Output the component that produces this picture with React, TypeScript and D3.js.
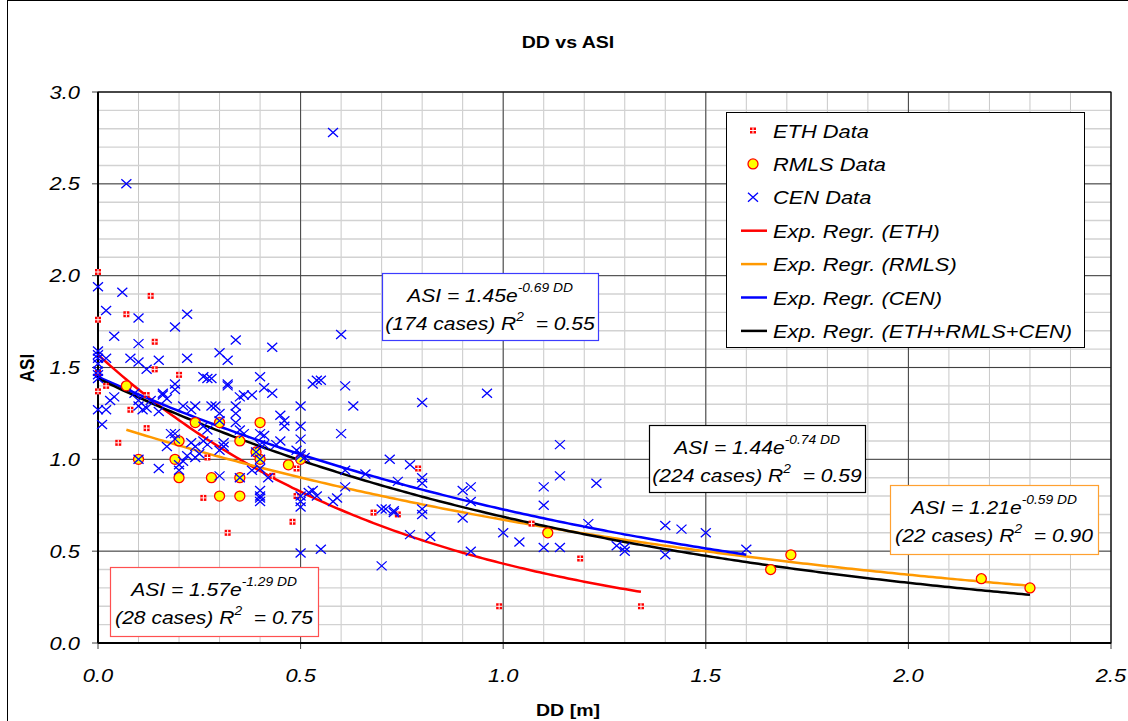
import React from "react";
import * as d3 from "d3";

// DD [m], ASI pairs
const ethData: [number, number][] = [
  [0.0, 2.02], [0.13, 1.89], [0.0, 1.76], [0.07, 1.79], [0.14, 1.64],
  [0.14, 1.49], [0.2, 1.46], [0.0, 1.47], [0.0, 1.37], [0.02, 1.4],
  [0.08, 1.27], [0.12, 1.35], [0.12, 1.17], [0.05, 1.09], [0.27, 1.01],
  [0.26, 0.79], [0.32, 0.6], [0.43, 0.91], [0.48, 0.66], [0.49, 0.8],
  [0.49, 0.95], [0.68, 0.71], [0.74, 0.7], [0.79, 0.95], [0.99, 0.2],
  [1.07, 0.65], [1.19, 0.46], [1.34, 0.2],
];

const rmlsData: [number, number][] = [
  [0.07, 1.4], [0.1, 1.0], [0.19, 1.0], [0.2, 1.1], [0.2, 0.9],
  [0.24, 1.2], [0.3, 1.2], [0.28, 0.9], [0.3, 0.8], [0.35, 1.1],
  [0.35, 0.9], [0.35, 0.8], [0.39, 1.04], [0.4, 1.2], [0.4, 1.0],
  [0.47, 0.97], [0.5, 1.0], [1.11, 0.6], [1.66, 0.4], [1.71, 0.48],
  [2.18, 0.35], [2.3, 0.3],
];

const cenData: [number, number][] = [
  [0.0, 1.94], [0.06, 1.91], [0.02, 1.81], [0.1, 1.77], [0.22, 1.79],
  [0.19, 1.72], [0.04, 1.67], [0.1, 1.63], [0.34, 1.65], [0.43, 1.61],
  [0.3, 1.58], [0.07, 2.5], [0.58, 2.78], [0.6, 1.68], [0.0, 1.59],
  [0.0, 1.57], [0.0, 1.55], [0.0, 1.52], [0.0, 1.48], [0.0, 1.46],
  [0.0, 1.44], [0.02, 1.55], [0.08, 1.55], [0.1, 1.53], [0.15, 1.54],
  [0.22, 1.55], [0.12, 1.49], [0.26, 1.45], [0.19, 1.41], [0.27, 1.44],
  [0.32, 1.54], [0.28, 1.44], [0.32, 1.41], [0.4, 1.45], [0.54, 1.43],
  [0.53, 1.41], [0.0, 1.27], [0.01, 1.19], [0.02, 1.27], [0.04, 1.34],
  [0.03, 1.32], [0.09, 1.36], [0.1, 1.29], [0.12, 1.28], [0.13, 1.32],
  [0.15, 1.26], [0.16, 1.36], [0.19, 1.38], [0.17, 1.07], [0.19, 1.14],
  [0.15, 0.95], [0.1, 1.32], [0.11, 1.27], [0.16, 1.35], [0.17, 1.33],
  [0.21, 1.29], [0.23, 1.27], [0.24, 1.29], [0.18, 1.14], [0.19, 1.11],
  [0.23, 1.09], [0.24, 1.07], [0.26, 1.1], [0.27, 1.08], [0.21, 0.99],
  [0.2, 0.97], [0.2, 0.94], [0.22, 1.02], [0.24, 1.01], [0.25, 1.03],
  [0.1, 1.0], [0.32, 1.4], [0.41, 1.39], [0.43, 1.36], [0.35, 1.34],
  [0.36, 1.35], [0.38, 1.35], [0.28, 1.29], [0.29, 1.29], [0.34, 1.29],
  [0.34, 1.25], [0.5, 1.29], [0.3, 1.25], [0.3, 1.21], [0.34, 1.2],
  [0.26, 1.18], [0.27, 1.16], [0.35, 1.16], [0.36, 1.14], [0.4, 1.14],
  [0.41, 1.13], [0.45, 1.24], [0.46, 1.21], [0.5, 1.18], [0.5, 1.11],
  [0.45, 1.1], [0.44, 1.08], [0.31, 1.09], [0.31, 1.07], [0.3, 1.05],
  [0.4, 1.08], [0.41, 1.08], [0.39, 1.04], [0.4, 1.0], [0.5, 1.02],
  [0.51, 1.01], [0.3, 0.91], [0.38, 0.94], [0.4, 0.95], [0.42, 0.9],
  [0.35, 0.9], [0.4, 0.83], [0.4, 0.8], [0.4, 0.79], [0.4, 0.77],
  [0.5, 0.8], [0.53, 0.83], [0.54, 0.8], [0.46, 1.18], [0.49, 1.05],
  [0.5, 1.03], [0.55, 1.43], [0.61, 1.4], [0.63, 1.29], [0.6, 1.14],
  [0.8, 1.31], [0.96, 1.36], [1.14, 1.08], [1.14, 0.91], [0.52, 0.82],
  [0.5, 0.77], [0.5, 0.74], [0.55, 0.51], [0.5, 0.49], [0.58, 0.77],
  [0.59, 0.79], [0.61, 0.94], [0.61, 0.85], [0.66, 0.92], [0.72, 1.0],
  [0.7, 0.42], [0.7, 0.73], [0.71, 0.73], [0.73, 0.72], [0.73, 0.71],
  [0.74, 0.88], [0.77, 0.97], [0.8, 0.9], [0.8, 0.87], [0.8, 0.73],
  [0.8, 0.7], [0.77, 0.59], [0.82, 0.58], [0.9, 0.83], [0.92, 0.85],
  [0.92, 0.77], [0.9, 0.68], [0.92, 0.5], [1.0, 0.6], [1.04, 0.55],
  [1.1, 0.85], [1.1, 0.75], [1.1, 0.52], [1.14, 0.52], [1.23, 0.87],
  [1.21, 0.65], [1.28, 0.53], [1.3, 0.52], [1.3, 0.5], [1.4, 0.64],
  [1.44, 0.62], [1.5, 0.6], [1.4, 0.48], [1.6, 0.51],
];

// exponential regressions as printed on the chart: ASI = a * e^(b * DD)
const trendLines = [
  { key: "ETH", a: 1.57, b: -1.29, from: 0, to: 1.34, color: "#ff0000" },
  { key: "RMLS", a: 1.21, b: -0.59, from: 0.07, to: 2.3, color: "#ff9900" },
  { key: "CEN", a: 1.45, b: -0.69, from: 0, to: 1.6, color: "#0000ff" },
  { key: "ALL", a: 1.44, b: -0.74, from: 0, to: 2.3, color: "#000000" },
];

const legendLabels = [
  "ETH Data",
  "RMLS Data",
  "CEN Data",
  "Exp. Regr. (ETH)",
  "Exp. Regr. (RMLS)",
  "Exp. Regr. (CEN)",
  "Exp. Regr. (ETH+RMLS+CEN)",
];

const noteCoef = ["1.57", "1.45", "1.44", "1.21"];
const noteExp = ["-1.29 DD", "-0.69 DD", "-0.74 DD", "-0.59 DD"];
const noteCases = ["28", "174", "224", "22"];
const noteR2 = ["0.75", "0.55", "0.59", "0.90"];

const xTicks = [0, 0.5, 1.0, 1.5, 2.0, 2.5];
const yTicks = [0, 0.5, 1.0, 1.5, 2.0, 2.5, 3.0];

const W = 1128;
const H = 721;
const SX = 1.15; // the picture is stretched sideways a bit
const FONT = "'Liberation Sans', Arial, sans-serif";

const x = d3.scaleLinear().domain([0, 2.5]).range([98, 1111]);
const y = d3.scaleLinear().domain([0, 3]).range([643, 92]);

const minorX = d3.range(0, 26).map(i => i / 10);
const minorY = d3.range(0, 31).map(i => i / 10);

const line = d3
  .line<[number, number]>()
  .x(d => x(d[0]))
  .y(d => y(d[1]));

const trendPath = (t: typeof trendLines[0]) => {
  const xs = d3.range(t.from, t.to, 0.01).concat([t.to]);
  return line(xs.map(v => [v, t.a * Math.exp(t.b * v)] as [number, number])) || "";
};

const EthMark = ({ cx, cy }: { cx: number; cy: number }) => (
  <g>
    <rect x={cx - 3} y={cy - 3} width={6} height={6} fill="#ff0000" />
    <line x1={cx - 3} x2={cx + 3} y1={cy} y2={cy} stroke="#fff" strokeWidth={1} />
    <line x1={cx} x2={cx} y1={cy - 3} y2={cy + 3} stroke="#fff" strokeWidth={1} />
  </g>
);

const RmlsMark = ({ cx, cy }: { cx: number; cy: number }) => (
  <circle cx={cx} cy={cy} r={5} fill="#ffff00" stroke="#ff0000" strokeWidth={1.3} />
);

const CenMark = ({ cx, cy }: { cx: number; cy: number }) => (
  <path
    d={`M${cx - 5},${cy - 4.5}L${cx + 5},${cy + 4.5}M${cx - 5},${cy + 4.5}L${cx + 5},${cy - 4.5}`}
    stroke="#0000ff"
    strokeWidth={1.3}
    fill="none"
  />
);

const T = ({ px, py, anchor = "start", size = 19, bold = false, italic = true, children }: any) => (
  <text
    transform={`translate(${px},${py}) scale(${SX},1)`}
    textAnchor={anchor}
    fontFamily={FONT}
    fontSize={size}
    fontWeight={bold ? "bold" : "normal"}
    fontStyle={italic ? "italic" : "normal"}
    fill="#000"
    style={{ whiteSpace: "pre" }}
  >
    {children}
  </text>
);

// boxes for the fit equations (pixel layout)
const noteBoxes = [
  { x: 110, y: 567, w: 208, h: 69, stroke: "#ff5050" },
  { x: 382, y: 273, w: 216, h: 67, stroke: "#3c3cff" },
  { x: 649, y: 425, w: 216, h: 67, stroke: "#000000" },
  { x: 890, y: 485, w: 208, h: 69, stroke: "#ffa030" },
];

const Note = ({ i }: { i: number }) => {
  const b = noteBoxes[i];
  const cx = b.x + b.w / 2;
  return (
    <g>
      <rect x={b.x + 0.5} y={b.y + 0.5} width={b.w} height={b.h} fill="#fff" stroke={b.stroke} strokeWidth={1.2} />
      <T px={cx} py={b.y + 29} anchor="middle" size={18.3}>
        {`ASI = ${noteCoef[i]}e`}
        <tspan fontSize={12} dy={-10}>{noteExp[i]}</tspan>
      </T>
      <T px={cx} py={b.y + 57} anchor="middle" size={18.3}>
        {`(${noteCases[i]} cases) R`}
        <tspan fontSize={12} dy={-9}>2</tspan>
        <tspan dy={9}>{`  = ${noteR2[i]}`}</tspan>
      </T>
    </g>
  );
};

export default function App() {
  const x0 = x.range()[0];
  const x1 = x.range()[1];
  const y0 = y.range()[0];
  const y1 = y.range()[1];
  const legX = 726;
  const legY = 112;
  const legRow = 33.4;

  return (
    <svg width={W} height={H} style={{ position: "absolute", left: 0, top: 0, background: "#fff" }}>
      <rect x={0} y={0} width={W} height={H} fill="#fff" />
      <line x1={7.5} x2={7.5} y1={0} y2={H} stroke="#000" strokeWidth={1} />
      <line x1={7.5} x2={W} y1={0.5} y2={0.5} stroke="#000" strokeWidth={1} />

      {/* minor grid */}
      {minorX.map(v => (
        <line key={"mx" + v} x1={x(v)} x2={x(v)} y1={y1} y2={y0} stroke="#c8c8c8" strokeWidth={1} />
      ))}
      {minorY.map(v => (
        <line key={"my" + v} x1={x0} x2={x1} y1={y(v)} y2={y(v)} stroke="#d2d2d2" strokeWidth={1.4} />
      ))}
      {/* major grid */}
      {xTicks.map(v => (
        <line key={"gx" + v} x1={x(v)} x2={x(v)} y1={y1} y2={y0 + 6} stroke="#404040" strokeWidth={1} />
      ))}
      {yTicks.map(v => (
        <line key={"gy" + v} x1={x0 - 6} x2={x1} y1={y(v)} y2={y(v)} stroke="#404040" strokeWidth={1} />
      ))}
      <rect x={x0} y={y1} width={x1 - x0} height={y0 - y1} fill="none" stroke="#000" strokeWidth={1} />
      <line x1={x0} x2={x0} y1={y1} y2={y0} stroke="#000" strokeWidth={2} />
      <line x1={x0} x2={x1} y1={y0} y2={y0} stroke="#000" strokeWidth={2} />

      {/* regression curves */}
      {trendLines.map(t => (
        <path key={t.key} d={trendPath(t)} fill="none" stroke={t.color} strokeWidth={2.5} strokeLinejoin="round" />
      ))}

      {/* data */}
      {ethData.map((d, i) => (
        <EthMark key={"e" + i} cx={x(d[0])} cy={y(d[1])} />
      ))}
      {rmlsData.map((d, i) => (
        <RmlsMark key={"r" + i} cx={x(d[0])} cy={y(d[1])} />
      ))}
      {cenData.map((d, i) => (
        <CenMark key={"c" + i} cx={x(d[0])} cy={y(d[1])} />
      ))}

      {/* tick labels */}
      {yTicks.map(v => (
        <T key={"yl" + v} px={80} py={y(v) + 6.5} anchor="end">
          {d3.format(".1f")(v)}
        </T>
      ))}
      {xTicks.map(v => (
        <T key={"xl" + v} px={x(v)} py={682} anchor="middle">
          {d3.format(".1f")(v)}
        </T>
      ))}

      {/* titles */}
      <T px={568} py={48} anchor="middle" size={17} bold italic={false}>
        DD vs ASI
      </T>
      <T px={568} py={716} anchor="middle" size={17} bold italic={false}>
        DD [m]
      </T>
      <text
        transform={`translate(34,368) rotate(-90) scale(1,${SX})`}
        textAnchor="middle"
        fontFamily={FONT}
        fontSize={17}
        fontWeight="bold"
      >
        ASI
      </text>

      {/* fit notes */}
      {noteBoxes.map((_, i) => (
        <Note key={"n" + i} i={i} />
      ))}

      {/* legend */}
      <rect x={legX + 0.5} y={legY + 0.5} width={358} height={235} fill="#fff" stroke="#000" strokeWidth={1} />
      {legendLabels.map((label, i) => {
        const cy = legY + 18.5 + i * legRow;
        let mark: any = null;
        if (i === 0) mark = <EthMark cx={753} cy={cy} />;
        else if (i === 1) mark = <RmlsMark cx={753} cy={cy} />;
        else if (i === 2) mark = <CenMark cx={753} cy={cy} />;
        else
          mark = (
            <line x1={741} x2={767} y1={cy} y2={cy} stroke={trendLines[i - 3].color} strokeWidth={2.5} />
          );
        return (
          <g key={label}>
            {mark}
            <T px={773} py={cy + 7}>
              {label}
            </T>
          </g>
        );
      })}
    </svg>
  );
}
